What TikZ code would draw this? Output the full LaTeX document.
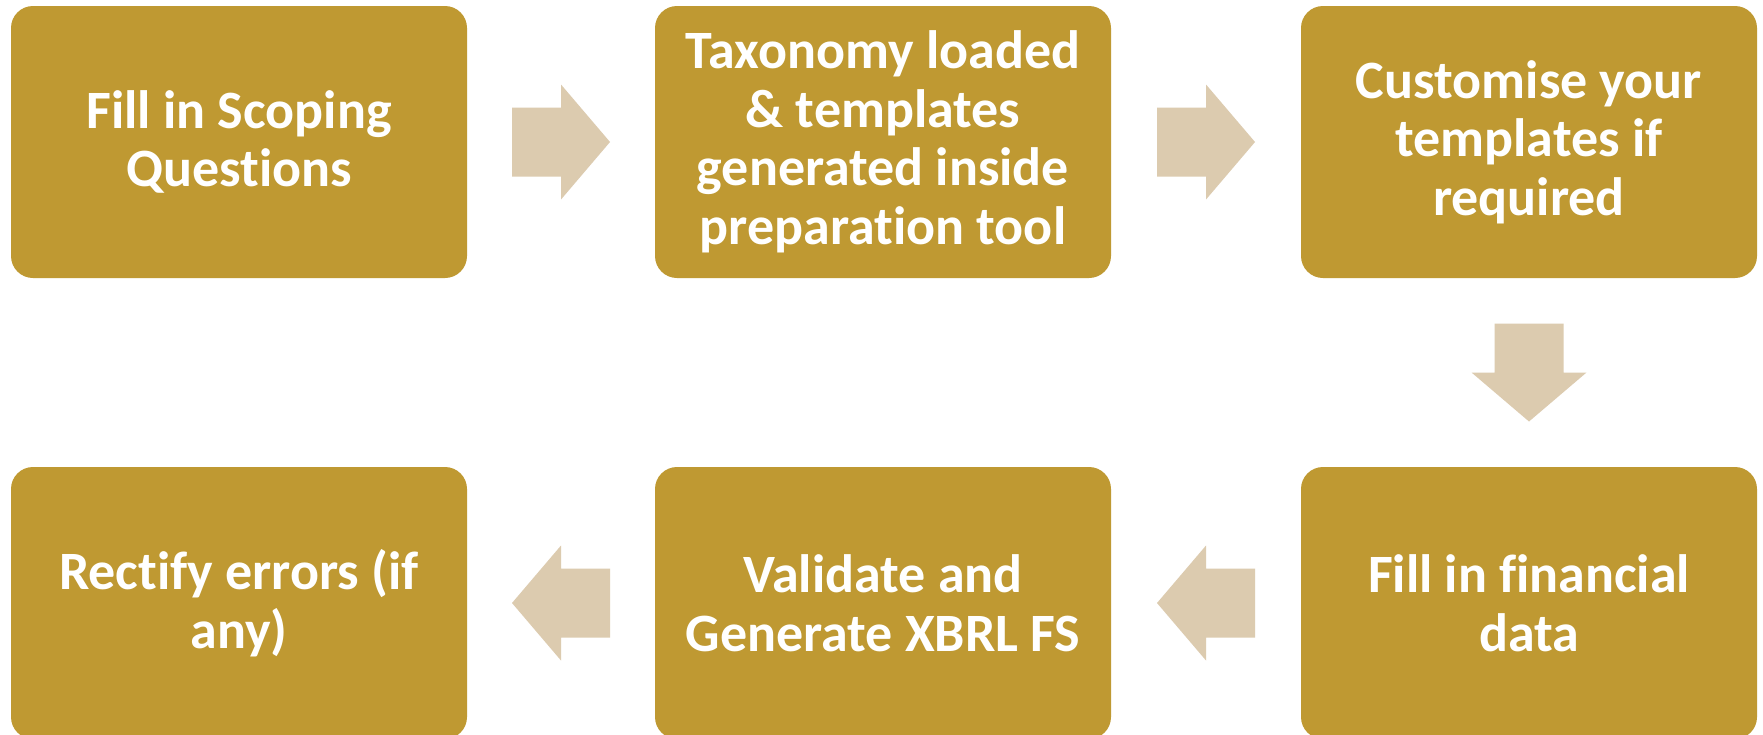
\documentclass[tikz,border=0pt]{standalone}
\usepackage{fontspec}
\setmainfont[Ligatures=NoCommon]{Carlito}
\usetikzlibrary{calc}

\definecolor{gold}{RGB}{191,153,50}
\definecolor{sand}{RGB}{220,203,175}

\tikzset{
  stepbox/.style={fill=gold, rounded corners=22pt, minimum width=456pt, minimum height=272pt,
    inner sep=0pt, text=white, align=center, font=\bfseries\fontsize{54}{58.5}\selectfont},
  blockarrow/.style={fill=sand}
}

\begin{document}
\begin{tikzpicture}[x=1pt,y=-1pt]
  \useasboundingbox (0,0) rectangle (1763,734);
  \fill[white] (0,0) rectangle (1763,734);

  % top row
  \node[stepbox] (scoping) at (239,142) {Fill in Scoping\\Questions};
  \node[stepbox] (taxonomy) at (883,142) {Taxonomy loaded\\\& templates\\generated inside\\preparation tool};
  \node[stepbox] (customise) at (1529,142) {Customise your\\templates if\\required};

  % bottom row
  \node[stepbox] (financial) at (1529,603) {Fill in financial\\data};
  \node[stepbox] (validate) at (883,603) {Validate and\\Generate XBRL FS};
  \node[stepbox] (rectify) at (239,603) {Rectify errors (if\\any)};

  \coordinate (m1) at ($(scoping.east)!0.5!(taxonomy.west)$);
  \coordinate (m2) at ($(taxonomy.east)!0.5!(customise.west)$);
  \coordinate (m3) at ($(customise.south)!0.5!(financial.north)$);
  \coordinate (m4) at ($(financial.west)!0.5!(validate.east)$);
  \coordinate (m5) at ($(validate.west)!0.5!(rectify.east)$);

  % block arrows
  \foreach \m/\a in {m1/0, m2/0, m3/-90, m4/180, m5/180}
    \fill[blockarrow, shift={(\m)}, rotate=\a]
      (-49,-34.5) -- (0,-34.5) -- (0,-57.5) -- (49,0) -- (0,57.5) -- (0,34.5) -- (-49,34.5) -- cycle;
\end{tikzpicture}
\end{document}
